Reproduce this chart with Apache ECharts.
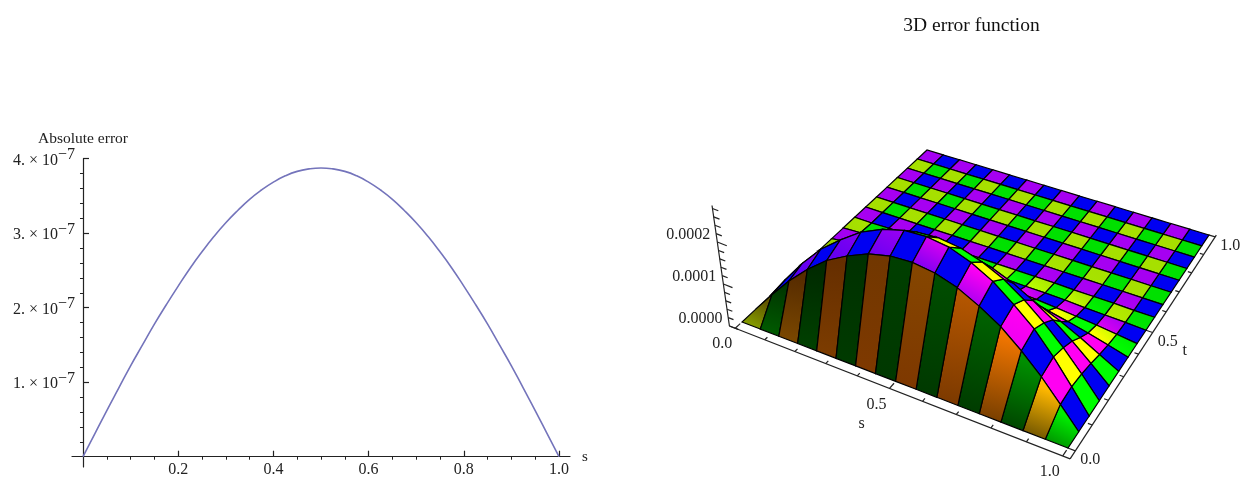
<!DOCTYPE html>
<html>
<head>
<meta charset="utf-8">
<title>Absolute error</title>
<script src="https://cdn.jsdelivr.net/npm/echarts@6/dist/echarts.min.js"></script>
<style>
html, body { margin: 0; padding: 0; background: #fff; }
#main { width: 1242px; height: 477px; }
</style>
</head>
<body>
<div id="main"></div>
<script>
/*---------- left plot: absolute error along s (values in 1e-7) ----------*/
var sValues = [0, 0.025, 0.05, 0.075, 0.1, 0.125, 0.15, 0.175, 0.2, 0.225, 0.25, 0.275, 0.3, 0.325, 0.35, 0.375, 0.4, 0.425, 0.45, 0.475, 0.5,
    0.525, 0.55, 0.575, 0.6, 0.625, 0.65, 0.675, 0.7, 0.725, 0.75, 0.775, 0.8, 0.825, 0.85, 0.875, 0.9, 0.925, 0.95, 0.975, 1];
var errValues = [0, 0.31, 0.62, 0.92, 1.22, 1.5, 1.78, 2.04, 2.29, 2.53, 2.75, 2.955, 3.14, 3.305, 3.455, 3.58, 3.685, 3.77, 3.83, 3.863, 3.875,
    3.863, 3.83, 3.77, 3.685, 3.58, 3.455, 3.305, 3.14, 2.955, 2.75, 2.53, 2.29, 2.04, 1.78, 1.5, 1.22, 0.92, 0.62, 0.31, 0];
var xMajorTicks = [0.2, 0.4, 0.6, 0.8, 1.0];
var xMinorTicks = [0.05, 0.1, 0.15, 0.25, 0.3, 0.35, 0.45, 0.5, 0.55, 0.65, 0.7, 0.75, 0.85, 0.9, 0.95];
var yMajorTicks = [1, 2, 3, 4];
var yMinorTicks = [0.2, 0.4, 0.6, 0.8, 1.2, 1.4, 1.6, 1.8, 2.2, 2.4, 2.6, 2.8, 3.2, 3.4, 3.6, 3.8];

/*---------- right plot: surface heights in 1e-4, one list per t row ----------*/
var zT0 = [0, 0, 0, 0, 0, 0, 0, 0, 0, 0, 0, 0, 0, 0, 0, 0, 0];
var zT1 = [0, 0.5, 1.0, 1.45, 1.85, 2.15, 2.4, 2.55, 2.6, 2.55, 2.4, 2.15, 1.85, 1.45, 1.0, 0.5, 0];
var zT2 = [0, 0.55, 1.1, 1.6, 2.0, 2.37, 2.63, 2.8, 2.85, 2.8, 2.63, 2.37, 2.0, 1.6, 1.1, 0.55, 0];
var zT3 = [0, 0.48, 0.94, 1.36, 1.73, 2.04, 2.26, 2.4, 2.45, 2.4, 2.26, 2.04, 1.73, 1.36, 0.94, 0.48, 0];
var zT4 = [0, 0.37, 0.73, 1.06, 1.34, 1.58, 1.76, 1.86, 1.9, 1.86, 1.76, 1.58, 1.34, 1.06, 0.73, 0.37, 0];
var zT5 = [0, 0.23, 0.46, 0.67, 0.85, 1.0, 1.11, 1.18, 1.2, 1.18, 1.11, 1.0, 0.85, 0.67, 0.46, 0.23, 0];
var zT6 = [0, 0.12, 0.23, 0.33, 0.42, 0.5, 0.55, 0.59, 0.6, 0.59, 0.55, 0.5, 0.42, 0.33, 0.23, 0.12, 0];
var zT7 = [0, 0.05, 0.1, 0.14, 0.18, 0.21, 0.23, 0.25, 0.25, 0.25, 0.23, 0.21, 0.18, 0.14, 0.1, 0.05, 0];
var zT8 = [0, 0.02, 0.03, 0.04, 0.06, 0.07, 0.07, 0.08, 0.08, 0.08, 0.07, 0.07, 0.06, 0.04, 0.03, 0.02, 0];
var zT9 = [0, 0, 0.01, 0.01, 0.01, 0.02, 0.02, 0.02, 0.02, 0.02, 0.02, 0.02, 0.01, 0.01, 0.01, 0, 0];
var zFlat = [0, 0, 0, 0, 0, 0, 0, 0, 0, 0, 0, 0, 0, 0, 0, 0, 0];
var zRows = [zT0, zT1, zT2, zT3, zT4, zT5, zT6, zT7, zT8, zT9, zFlat, zFlat, zFlat, zFlat, zFlat, zFlat, zFlat];

var sTicks3d = [0, 0.1, 0.2, 0.3, 0.4, 0.5, 0.6, 0.7, 0.8, 0.9, 1];
var tTicks3d = [0, 0.1, 0.2, 0.3, 0.4, 0.5, 0.6, 0.7, 0.8, 0.9, 1];
var zTicks3d = [0, 0.2, 0.4, 0.6, 0.8, 1, 1.2, 1.4, 1.6, 1.8, 2, 2.2, 2.4, 2.6, 2.8];
var sLabels3d = [0, 0.5, 1];
var tLabels3d = [0, 0.5, 1];
var zLabels3d = [0, 1, 2];
var zTop = 2.87;

var SERIF = '"Liberation Serif", "Times New Roman", serif';
var INK = '#222';
var CELLS = 16;
var SLOPE = CELLS * 0.14;

/*---------- view of the 3D box, in pixels of the hidden axes ----------*/
var view = (function() {
    var x0 = 742, y0 = 322, x1 = 1068, y1 = 448, x2 = 1209, y2 = 235, x3 = 927, y3 = 150;
    var sx = x0 - x1 + x2 - x3, sy = y0 - y1 + y2 - y3;
    var dx1 = x1 - x2, dx2 = x3 - x2, dy1 = y1 - y2, dy2 = y3 - y2;
    var den = dx1 * dy2 - dx2 * dy1;
    var g = (sx * dy2 - dx2 * sy) / den, h = (dx1 * sy - sx * dy1) / den;
    return {
        a: x1 - x0 + g * x1, b: x3 - x0 + h * x3, c: x0,
        d: y1 - y0 + g * y1, e: y3 - y0 + h * y3, f: y0,
        g: g, h: h,
        vx: 870, vy: 1300, zk: 0.0431
    };
})();

function project(s, t, z) {
    var w = view.g * s + view.h * t + 1;
    var x = (view.a * s + view.b * t + view.c) / w;
    var y = (view.d * s + view.e * t + view.f) / w;
    var f = z * view.zk;
    return [x + (x - view.vx) * f, y + (y - view.vy) * f];
}

function clamp01(v) { return Math.max(0, Math.min(1, v)); }

// mathematica style coloured lights on a four colour checker, evaluated on the
// row edge je of cell column i so a cell can shade from its lower to upper edge
function edgeColor(i, j, je) {
    var lo = zRows[Math.max(je - 1, 0)], hi = zRows[Math.min(je + 1, CELLS)];
    var span = Math.min(je + 1, CELLS) - Math.max(je - 1, 0);
    var dzs = (zRows[je][i + 1] - zRows[je][i]) * SLOPE;
    var dzt = ((hi[i] + hi[i + 1]) - (lo[i] + lo[i + 1])) / 2 / span * SLOPE;
    var len = Math.sqrt(dzs * dzs + dzt * dzt + 1);
    var nx = -dzs / len, ny = -dzt / len, nz = 1 / len;
    var r = clamp01(0.83 + (nx > 0 ? 1.2 : 0.37) * nx + 0.31 * ny - 0.18 * nz);
    var g = clamp01(0.68 + (nx > 0 ? 0.3 : 0.5) * nx + 0.5 * ny + 0.2 * nz);
    var b = 0.95;
    var evenI = i % 2 === 0, evenJ = j % 2 === 0;
    var c = evenJ ? (evenI ? [r, g, 0] : [0, g, 0]) : (evenI ? [r, 0, b] : [0, 0, b]);
    return 'rgb(' + Math.round(c[0] * 255) + ',' + Math.round(c[1] * 255) + ',' + Math.round(c[2] * 255) + ')';
}

// back rows first so the ridge hides what is behind it
var cellData = [];
for (var j = CELLS - 1; j >= 0; j--) {
    for (var i = 0; i < CELLS / 2; i++) { cellData.push([i, j]); }
    for (var k = CELLS - 1; k >= CELLS / 2; k--) { cellData.push([k, j]); }
}

function renderCell(params, api) {
    var i = api.value(0), j = api.value(1);
    var corners = [
        [i, j], [i + 1, j], [i + 1, j + 1], [i, j + 1]
    ].map(function(c) {
        return api.coord(project(c[0] / CELLS, c[1] / CELLS, zRows[c[1]][c[0]]));
    });
    var fill = new echarts.graphic.LinearGradient(
        (corners[0][0] + corners[1][0]) / 2, (corners[0][1] + corners[1][1]) / 2,
        (corners[2][0] + corners[3][0]) / 2, (corners[2][1] + corners[3][1]) / 2,
        [{ offset: 0, color: edgeColor(i, j, j) }, { offset: 1, color: edgeColor(i, j, j + 1) }],
        true
    );
    return {
        type: 'polygon',
        shape: { points: corners },
        style: { fill: fill, stroke: '#000', lineWidth: 1.2 }
    };
}

/*---------- box axes: line pieces and tick marks ----------*/
var S_EDGE = 1.02, T_EDGE = -0.03, S_BACK = -0.02;
var segments = [];
segments.push([[S_BACK, T_EDGE, 0], [S_EDGE, T_EDGE, 0]]);
segments.push([[S_EDGE, T_EDGE, 0], [S_EDGE, 1.01, 0]]);
segments.push([[S_BACK, T_EDGE, 0], [S_BACK, T_EDGE, zTop]]);
sTicks3d.forEach(function(v) {
    var major = sLabels3d.indexOf(v) >= 0;
    segments.push([[v, T_EDGE, 0], [v, T_EDGE + (major ? 0.022 : 0.012), 0]]);
});
tTicks3d.forEach(function(v) {
    var major = tLabels3d.indexOf(v) >= 0;
    segments.push([[S_EDGE, v, 0], [S_EDGE - (major ? 0.022 : 0.012), v, 0]]);
});
zTicks3d.forEach(function(v) {
    var major = zLabels3d.indexOf(v) >= 0;
    segments.push([[S_BACK, T_EDGE, v], [S_BACK + (major ? 0.03 : 0.018), T_EDGE, v]]);
});

function renderSegment(params, api) {
    var seg = segments[params.dataIndex];
    var a = api.coord(project(seg[0][0], seg[0][1], seg[0][2]));
    var b = api.coord(project(seg[1][0], seg[1][1], seg[1][2]));
    return {
        type: 'line',
        shape: { x1: a[0], y1: a[1], x2: b[0], y2: b[1] },
        style: { stroke: INK, lineWidth: 1.2 }
    };
}

/*---------- box axes: text ----------*/
var boxTexts = [];
sLabels3d.forEach(function(v) {
    boxTexts.push({ at: [v, T_EDGE, 0], dx: -13, dy: 16, align: 'center', text: v.toFixed(1) });
});
tLabels3d.forEach(function(v) {
    boxTexts.push({ at: [S_EDGE, v, 0], dx: 15, dy: 9, align: 'center', text: v.toFixed(1) });
});
zLabels3d.forEach(function(v) {
    boxTexts.push({ at: [S_BACK, T_EDGE, v], dx: -7, dy: -7, align: 'right', text: (v / 10000).toFixed(4) });
});
boxTexts.push({ at: [0.5, T_EDGE, 0], dx: -28, dy: 35, align: 'center', text: 's' });
boxTexts.push({ at: [S_EDGE, 0.5, 0], dx: 32, dy: 18, align: 'center', text: 't' });

function renderBoxText(params, api) {
    var item = boxTexts[params.dataIndex];
    var p = api.coord(project(item.at[0], item.at[1], item.at[2]));
    return {
        type: 'text',
        style: {
            x: p[0] + item.dx, y: p[1] + item.dy,
            text: item.text,
            align: item.align, verticalAlign: 'middle',
            fill: INK, font: '16px ' + SERIF
        }
    };
}

var myChart = echarts.init(document.getElementById('main'), null, { renderer: 'canvas' });

var option = {
    animation: false,
    backgroundColor: '#fff',
    title: {
        text: '3D error function',
        left: 966.5,
        top: 11,
        textAlign: 'center',
        textStyle: { fontFamily: SERIF, fontSize: 19.5, fontWeight: 'normal', color: '#111' }
    },
    grid: [
        { left: 72, right: 672, top: 158.7, height: 308.3, outerBoundsMode: 'none' },
        { left: 0, right: 0, top: 0, bottom: 0, outerBoundsMode: 'none' }
    ],
    xAxis: [
        {
            gridIndex: 0, type: 'value', min: -0.0231, max: 1.0231,
            name: 's', nameLocation: 'end', nameGap: 12,
            nameTextStyle: { fontFamily: SERIF, fontSize: 15, color: INK },
            splitLine: { show: false },
            axisLine: { lineStyle: { color: INK, width: 1.2 } },
            axisTick: { inside: true, length: 6, customValues: xMajorTicks, lineStyle: { color: INK, width: 1.2 } },
            axisLabel: {
                customValues: xMajorTicks, margin: -5,
                fontFamily: SERIF, fontSize: 16, color: INK,
                formatter: function(v) { return v.toFixed(1); }
            }
        },
        {
            gridIndex: 0, type: 'value', min: -0.0231, max: 1.0231,
            splitLine: { show: false },
            axisLine: { show: false },
            axisLabel: { show: false },
            axisTick: { inside: true, length: 3, customValues: xMinorTicks, lineStyle: { color: INK, width: 1 } }
        },
        { gridIndex: 1, type: 'value', min: 0, max: 1242, show: false }
    ],
    yAxis: [
        {
            gridIndex: 0, type: 'value', min: -0.138, max: 4,
            name: 'Absolute error', nameLocation: 'end', nameGap: 12,
            nameTextStyle: { fontFamily: SERIF, fontSize: 15.5, color: INK },
            splitLine: { show: false },
            axisLine: { lineStyle: { color: INK, width: 1.2 } },
            axisTick: { inside: true, length: 6, customValues: yMajorTicks, lineStyle: { color: INK, width: 1.2 } },
            axisLabel: {
                customValues: yMajorTicks, margin: -3,
                fontFamily: SERIF, fontSize: 16, color: INK,
                formatter: function(v) { return '{m|' + v + '. × 10}{e|−7}'; },
                rich: {
                    m: { fontFamily: SERIF, fontSize: 16, color: INK, padding: [4, 0, 0, 0] },
                    e: { fontFamily: SERIF, fontSize: 16, color: INK, padding: [0, 0, 7, 0] }
                }
            }
        },
        {
            gridIndex: 0, type: 'value', min: -0.138, max: 4,
            splitLine: { show: false },
            axisLine: { show: false },
            axisLabel: { show: false },
            axisTick: { inside: true, length: 3, customValues: yMinorTicks, lineStyle: { color: INK, width: 1 } }
        },
        { gridIndex: 1, type: 'value', min: 0, max: 477, inverse: true, show: false }
    ],
    series: [
        {
            name: 'Absolute error',
            type: 'line',
            xAxisIndex: 0, yAxisIndex: 0,
            smooth: true,
            symbol: 'none',
            lineStyle: { color: '#7474bb', width: 1.6 },
            data: sValues.map(function(s, n) { return [s, errValues[n]]; })
        },
        {
            name: 'box axes',
            type: 'custom',
            xAxisIndex: 2, yAxisIndex: 2,
            clip: false,
            silent: true,
            renderItem: renderSegment,
            data: segments.map(function(s, n) { return [n]; })
        },
        {
            name: '3D error function',
            type: 'custom',
            xAxisIndex: 2, yAxisIndex: 2,
            clip: false,
            silent: true,
            renderItem: renderCell,
            data: cellData
        },
        {
            name: 'box text',
            type: 'custom',
            xAxisIndex: 2, yAxisIndex: 2,
            clip: false,
            silent: true,
            renderItem: renderBoxText,
            data: boxTexts.map(function(s, n) { return [n]; })
        }
    ]
};
myChart.setOption(option);
</script>
</body>
</html>
